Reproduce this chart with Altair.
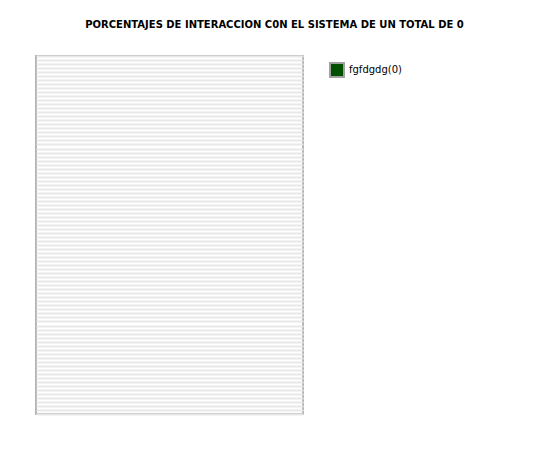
import altair as alt
import pandas as pd

categories = ["fgfdgdg(0)"]
values = [0]
colors = ["#005000"]
title_text = "PORCENTAJES DE INTERACCION C0N EL SISTEMA DE UN TOTAL DE 0"

df = pd.DataFrame({"cat": categories, "val": values})

n_stripes = 89
grid_vals = list(range(0, n_stripes + 1))

chart = alt.Chart(df).mark_bar().encode(
    x=alt.X("cat:N", axis=None),
    y=alt.Y("val:Q", scale=alt.Scale(domain=[0, n_stripes], nice=False),
            axis=alt.Axis(values=grid_vals, grid=True, gridColor="#e8e8e8", gridWidth=2,
                          labels=False, ticks=False, domain=False, title=None)),
    color=alt.Color("cat:N", scale=alt.Scale(domain=categories, range=colors),
                    legend=alt.Legend(title=None, orient="none", legendX=293, legendY=6,
                                      symbolType="square", symbolSize=196, symbolStrokeColor="#a0a0a0",
                                      symbolStrokeWidth=2, labelFontSize=10, labelColor="#000000",
                                      labelFont="DejaVu Sans", symbolOpacity=1)),
).properties(
    width=267, height=358,
    title=alt.TitleParams(title_text, font="DejaVu Sans", fontSize=10, fontWeight="bold",
                          color="#000000", anchor="middle", dx=105, offset=26),
    autosize=alt.AutoSizeParams(type="none"),
    padding={"left": 36, "top": 56, "right": 247, "bottom": 36},
).configure_view(stroke="#b4b4b4", strokeWidth=2)

chart.save("out.html", embed_options={"renderer": "svg", "actions": False})
